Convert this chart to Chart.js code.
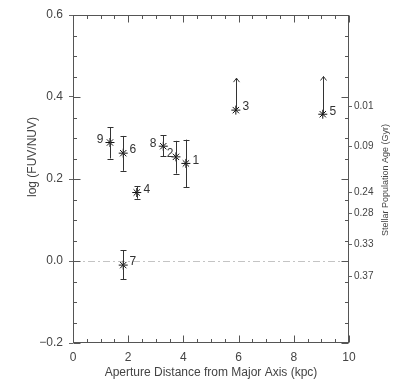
<!DOCTYPE html>
<html>
<head>
<meta charset="utf-8">
<script src="https://cdn.jsdelivr.net/npm/chart.js@4/dist/chart.umd.min.js"></script>
<style>
html,body{margin:0;padding:0;background:#fff;}
</style>
</head>
<body>
<canvas id="chart" width="415" height="388"></canvas>
<script>
// ----- Data -----
const apertures = ['1', '2', '3', '4', '5', '6', '7', '8', '9'];
const distance = [4.09, 3.73, 5.90, 2.31, 9.05, 1.82, 1.82, 3.27, 1.34];      // kpc
const logRatio = [0.238, 0.254, 0.368, 0.167, 0.358, 0.263, -0.010, 0.280, 0.289];
const errLow = [0.180, 0.213, null, 0.152, null, 0.220, -0.045, 0.255, 0.250];
const errHigh = [0.296, 0.293, null, 0.183, null, 0.305, 0.026, 0.307, 0.326];
const limitTop = [null, null, 0.446, null, 0.450, null, null, null, null];     // lower limits (arrows)

const xTicks = [0, 2, 4, 6, 8, 10];
const yTicks = [-0.2, 0.0, 0.2, 0.4, 0.6];
const ageTickPos = [0.378, 0.280, 0.167, 0.117, 0.041, -0.037];
const ageTickLabels = ['0.01', '0.09', '0.24', '0.28', '0.33', '0.37'];

const FONT = "'Liberation Sans', Arial, sans-serif";
const TEXT = '#444';
const INK = '#333';

// label offsets (left side for a few crowded points)
const labelDx = {'2': -3, '8': -7, '9': -7};

const overlay = {
    id: 'overlay',
    beforeDatasetsDraw(chart){
        const {ctx, chartArea: a, scales: {y}} = chart;
        const y0 = Math.round(y.getPixelForValue(0)) + 0.5;
        ctx.save();
        ctx.strokeStyle = '#c4c4c4';
        ctx.lineWidth = 1;
        ctx.setLineDash([7, 3, 2, 3]);
        ctx.beginPath();
        ctx.moveTo(a.left, y0);
        ctx.lineTo(a.right, y0);
        ctx.stroke();
        ctx.restore();
    },
    afterDatasetsDraw(chart){
        const {ctx, scales: {x, y}} = chart;
        ctx.save();
        ctx.strokeStyle = INK;
        ctx.lineWidth = 1;
        distance.forEach((d, i) => {
            const px = Math.round(x.getPixelForValue(d)) + 0.5;
            const py = y.getPixelForValue(logRatio[i]);
            if(errLow[i] !== null){
                const lo = y.getPixelForValue(errLow[i]);
                const hi = y.getPixelForValue(errHigh[i]);
                ctx.beginPath();
                ctx.moveTo(px, lo); ctx.lineTo(px, hi);
                ctx.moveTo(px - 3, Math.round(lo) + 0.5); ctx.lineTo(px + 3, Math.round(lo) + 0.5);
                ctx.moveTo(px - 3, Math.round(hi) + 0.5); ctx.lineTo(px + 3, Math.round(hi) + 0.5);
                ctx.stroke();
            }
            if(limitTop[i] !== null){
                const top = y.getPixelForValue(limitTop[i]);
                ctx.beginPath();
                ctx.moveTo(px, py); ctx.lineTo(px, top);
                ctx.moveTo(px - 3, top + 4); ctx.lineTo(px, top); ctx.lineTo(px + 3, top + 4);
                ctx.stroke();
            }
            // point label
            const dx = labelDx[apertures[i]] !== undefined ? labelDx[apertures[i]] : 6;
            ctx.fillStyle = INK;
            ctx.font = '12px ' + FONT;
            ctx.textBaseline = 'middle';
            ctx.textAlign = dx < 0 ? 'right' : 'left';
            ctx.fillText(apertures[i], px + dx, py - 3);
        });
        ctx.restore();
    },
    afterDraw(chart){
        const {ctx, chartArea: a, scales: {x, y}} = chart;
        ctx.save();
        ctx.strokeStyle = '#555';
        ctx.lineWidth = 1;
        const L = Math.round(a.left) + 0.5, R = Math.round(a.right) - 0.5;
        const T = Math.round(a.top) + 0.5, B = Math.round(a.bottom) - 0.5;
        ctx.strokeRect(L, T, R - L, B - T);
        ctx.beginPath();
        // x minor/major ticks, inward on top and bottom
        for(let k = 0; k <= 20; k++){
            const v = k * 0.5;
            const px = Math.round(x.getPixelForValue(v)) + 0.5;
            const len = k % 4 === 0 ? 7 : 3.5;
            ctx.moveTo(px, B); ctx.lineTo(px, B - len);
            ctx.moveTo(px, T); ctx.lineTo(px, T + len);
        }
        // y minor/major ticks, inward on left and right
        for(let k = 0; k <= 16; k++){
            const v = -0.2 + k * 0.05;
            const py = Math.round(y.getPixelForValue(v)) + 0.5;
            const len = k % 4 === 0 ? 7 : 3.5;
            ctx.moveTo(L, py); ctx.lineTo(L + len, py);
            ctx.moveTo(R, py); ctx.lineTo(R - len, py);
        }
        ctx.stroke();

        // axis titles
        ctx.fillStyle = TEXT;
        ctx.textAlign = 'center';
        ctx.textBaseline = 'middle';
        ctx.font = '12px ' + FONT;
        ctx.fillText('Aperture Distance from Major Axis (kpc)', (a.left + a.right) / 2, 373);
        ctx.translate(33, 157);
        ctx.rotate(-Math.PI / 2);
        ctx.fillText('log (FUV/NUV)', 0, 0);
        ctx.restore();

        ctx.save();
        ctx.fillStyle = TEXT;
        ctx.textAlign = 'center';
        ctx.textBaseline = 'middle';
        ctx.font = '9px ' + FONT;
        ctx.translate(386, 180);
        ctx.rotate(-Math.PI / 2);
        ctx.fillText('Stellar Population Age (Gyr)', 0, 0);
        ctx.restore();
    }
};

const points = distance.map((d, i) => ({x: d, y: logRatio[i]}));

new Chart(document.getElementById('chart'), {
    type: 'scatter',
    data: {
        datasets: [{
            label: 'log (FUV/NUV)',
            data: points,
            pointStyle: 'star',
            pointRadius: 4.5,
            borderColor: '#111',
            backgroundColor: '#111',
            borderWidth: 1
        }]
    },
    options: {
        responsive: false,
        animation: false,
        layout: {padding: {top: 15, left: 0, right: 0, bottom: 0}},
        plugins: {legend: {display: false}, tooltip: {enabled: false}},
        scales: {
            x: {
                type: 'linear', min: 0, max: 10,
                afterBuildTicks: s => { s.ticks = xTicks.map(v => ({value: v})); },
                afterFit: s => { s.height = 45; },
                grid: {display: false, drawTicks: false, tickLength: 0},
                border: {display: false},
                ticks: {color: TEXT, font: {family: FONT, size: 12}, padding: 7}
            },
            y: {
                type: 'linear', position: 'left', min: -0.2, max: 0.6,
                afterBuildTicks: s => { s.ticks = yTicks.map(v => ({value: v})); },
                afterFit: s => { s.width = 73; },
                grid: {drawOnChartArea: false, tickLength: 4, color: '#666'},
                border: {display: false},
                ticks: {
                    color: TEXT, font: {family: FONT, size: 12}, padding: 6,
                    callback: v => v < 0 ? '\u2212' + Math.abs(v).toFixed(1) : v.toFixed(1)
                }
            },
            y2: {
                type: 'linear', position: 'right', min: -0.2, max: 0.6,
                afterBuildTicks: s => { s.ticks = ageTickPos.map(v => ({value: v})); },
                afterFit: s => { s.width = 66; },
                grid: {drawOnChartArea: false, tickLength: 3, color: '#666'},
                border: {display: false},
                ticks: {
                    color: TEXT, font: {family: FONT, size: 10}, padding: 2,
                    callback: (v, i) => ageTickLabels[i]
                }
            }
        }
    },
    plugins: [overlay]
});
</script>
</body>
</html>
